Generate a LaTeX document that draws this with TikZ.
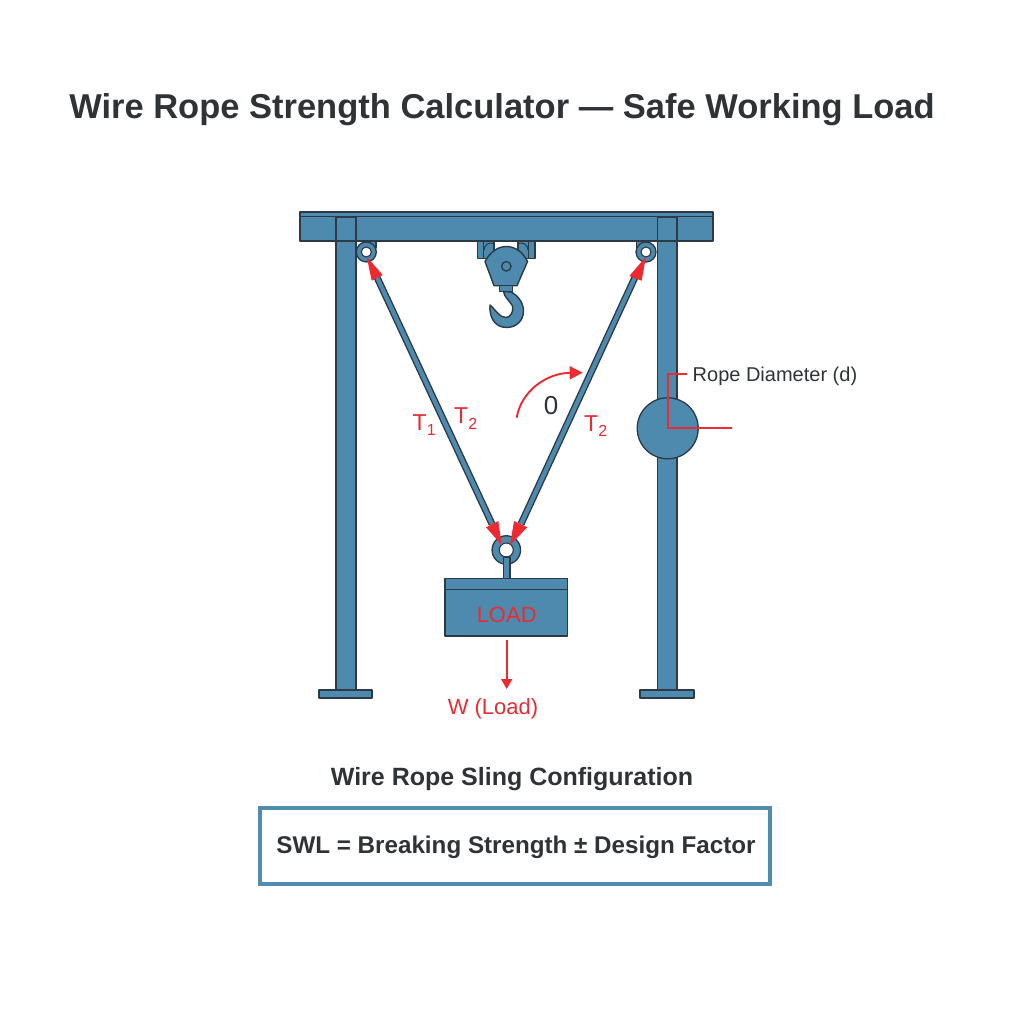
\documentclass[tikz,border=0pt]{standalone}
\usepackage{fontspec}
\setmainfont{Liberation Sans}
\usetikzlibrary{arrows.meta}
\definecolor{steel}{HTML}{4D8AAE}
\definecolor{edge}{HTML}{2C3A45}
\definecolor{redm}{HTML}{EC2A32}
\definecolor{ink}{HTML}{303336}
\definecolor{boxb}{HTML}{4F8DB0}
\newcommand{\fs}[1]{\fontsize{#1}{#1}\selectfont}
\newcommand{\subt}[1]{\raisebox{-5.5pt}{\fs{16}#1}}
\tikzset{
  part/.style={fill=steel,draw=edge,line width=1.4pt,line join=round},
  head/.style={fill=redm,draw=none},
  redline/.style={draw=redm,line width=1.9pt},
  lab/.style={text=redm,inner sep=0pt,font=\fs{22}},
  ropeo/.style={draw=edge,line width=7pt},
  ropei/.style={draw=steel,line width=4.2pt}
}
\begin{document}
\begin{tikzpicture}[x=1pt,y=-1pt]
\useasboundingbox (0,0) rectangle (1024,1024);
% title
\node[inner sep=0pt,text=ink,font=\bfseries\fs{34.5}] (title) at (502,110) {Wire Rope Strength Calculator — Safe Working Load};
% columns and feet
\draw[part] (319,690) rectangle (372,698);
\draw[part] (640,690) rectangle (694,698);
\draw[part] (336,217) rectangle (356,690);
\draw[part] (657.5,217) rectangle (677,690);
% beam
\draw[part] (300,212) rectangle (713,241);
\draw[edge,line width=1.2pt] (300,216.5) -- (713,216.5);
\draw[part] (336,217) rectangle (356,241);
\draw[part] (657.5,217) rectangle (677,241);
% eye tabs
\draw[part] (363,241) rectangle (376,248);
\draw[part] (636.5,241) rectangle (649.5,248);
% ropes
\coordinate (ltop) at (375,273);
\coordinate (lbot) at (492,524);
\coordinate (rtop) at (637,273);
\coordinate (rbot) at (521,524);
\draw[ropeo] (ltop) -- (lbot);
\draw[ropeo] (rtop) -- (rbot);
\draw[ropei] (ltop) -- (lbot);
\draw[ropei] (rtop) -- (rbot);
% eyes
\node[circle,draw=edge,fill=steel,line width=1.3pt,minimum size=20pt,inner sep=0pt] (eyeL) at (366.3,252) {};
\node[circle,draw=edge,fill=white,line width=1.1pt,minimum size=10pt,inner sep=0pt] (eyeLi) at (366.3,252) {};
\node[circle,draw=edge,fill=steel,line width=1.3pt,minimum size=20pt,inner sep=0pt] (eyeR) at (646,252) {};
\node[circle,draw=edge,fill=white,line width=1.1pt,minimum size=10pt,inner sep=0pt] (eyeRi) at (646,252) {};
% pulley brackets
\draw[part] (477.5,241) rectangle (494,258.5);
\draw[part] (518,241) rectangle (535,258.5);
\draw[edge,line width=1.2pt] (483.5,241) -- (483.5,258.5) (528.5,241) -- (528.5,258.5);
\draw[edge,line width=1pt] (484,250) arc[start angle=180,end angle=70,radius=7pt];
\draw[edge,line width=1pt] (528,250) arc[start angle=0,end angle=110,radius=7pt];
% pulley body
\draw[part] (485,261.5) .. controls (490,252) and (498,246.5) .. (506.3,246.5)
  .. controls (515,246.5) and (523,252) .. (527.5,261.5) -- (517,285.7) -- (494,285.7) -- cycle;
\node[circle,draw=edge,fill=steel,line width=1.3pt,minimum size=9.5pt,inner sep=0pt] (axle) at (506.3,266.3) {};
% hook
\draw[part] (499.5,285.7) rectangle (512.7,291.5);
\draw[part] (503.5,291.5) .. controls (504,297) and (510,301) .. (512.5,306)
  .. controls (514,312) and (510,317.5) .. (506,317.5)
  .. controls (499,317.5) and (496,310) .. (490,305)
  .. controls (489,316) and (494,327.5) .. (506.5,327.5)
  .. controls (517,327.5) and (523.5,320) .. (523.5,311)
  .. controls (523.5,302) and (517,295) .. (511,292) -- cycle;
% load ring, stem, load box
\node[circle,draw=edge,fill=steel,line width=1.3pt,minimum size=28.5pt,inner sep=0pt] (ring) at (506.3,550) {};
\node[circle,draw=edge,fill=white,line width=1.1pt,minimum size=14pt,inner sep=0pt] (ringi) at (506.3,550) {};
\draw[part] (503.3,557) rectangle (510,578.3);
\draw[part] (445,578.3) rectangle (567.7,636);
\draw[edge,line width=1.3pt] (445,589.3) -- (567.7,589.3);
\node[text=redm,inner sep=0pt,font=\fs{22}] (load) at (506.7,615) {LOAD};
% red arrowheads
\fill[head] (366.7,256.7) -- (382.7,275) -- (371.7,280.7) -- cycle;
\fill[head] (646,256.7) -- (629.3,276) -- (641.7,280.7) -- cycle;
\fill[head] (501.7,545) -- (486,527.3) -- (498.3,521) -- cycle;
\fill[head] (510,545) -- (514,521) -- (527.3,527.3) -- cycle;
% weight arrow
\coordinate (wtop) at (506.7,640);
\node[lab] (w) at (493,708.5) {W (Load)};
\coordinate (wend) at (506.7,689);
\draw[redline,-{Triangle[length=10pt,width=11pt]}] (wtop) -- (wend);
% angle arc
\coordinate (astart) at (516.7,417.7);
\coordinate (aend) at (582.7,372.7);
\draw[redline,-{Triangle[length=13pt,width=13pt]}] (astart) .. controls (521,391) and (547,373) .. (aend);
\node[text=ink,inner sep=0pt,font=\fs{26}] (theta) at (551,406) {0};
% tension labels
\node[lab,anchor=base west,font=\fs{23}] (t1) at (412.5,430) {T\subt{1}};
\node[lab,anchor=base west,font=\fs{23}] (t2a) at (454,423.5) {T\subt{2}};
\node[lab,anchor=base west,font=\fs{23}] (t2b) at (584,431) {T\subt{2}};
% diameter detail
\node[circle,draw=edge,fill=steel,line width=1.3pt,minimum size=61pt,inner sep=0pt] (dia) at (667.7,428.3) {};
\coordinate (d1) at (686.7,374);
\coordinate (d2) at (667.7,374);
\coordinate (d3) at (667.7,428.3);
\coordinate (d4) at (732.3,428.3);
\draw[redline] (d1) -- (d2) -- (d3) -- (d4);
\node[anchor=west,inner sep=0pt,text=ink,font=\fs{20}] (rd) at (692.5,376.5) {Rope Diameter (d)};
% caption and formula
\node[inner sep=0pt,text=ink,font=\bfseries\fs{25}] (cap) at (512,779) {Wire Rope Sling Configuration};
\node[draw=boxb,line width=4pt,fill=white,minimum width=510pt,minimum height=76pt,inner sep=0pt] (fbox) at (515,845.5) {};
\node[inner sep=0pt,text=ink,font=\bfseries\fs{24.2}] (swl) at (516,847) {SWL = Breaking Strength ± Design Factor};
\end{tikzpicture}
\end{document}
